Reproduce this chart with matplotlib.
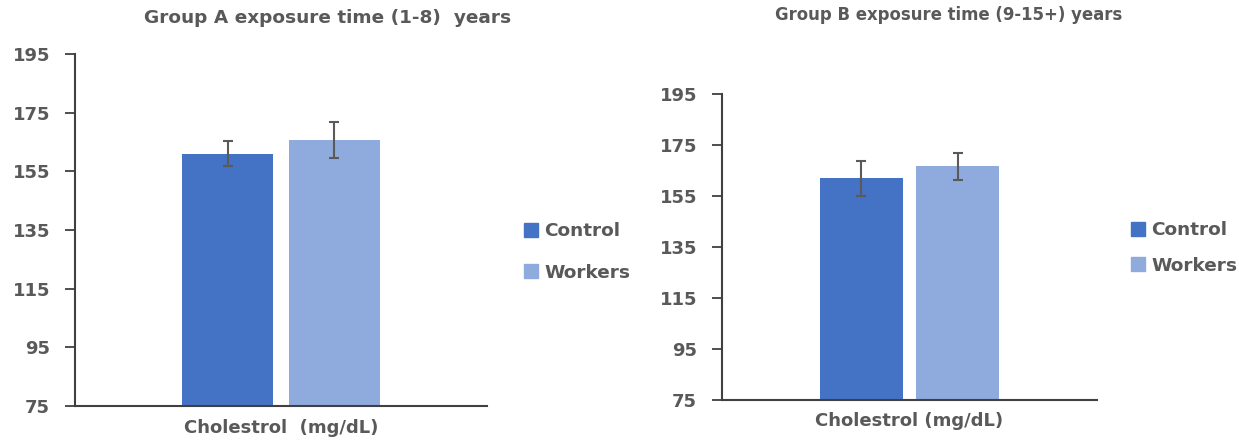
import matplotlib.pyplot as plt
from matplotlib.patches import Patch

# data
groups = ['Control', 'Workers']
colors = ['#4472C4', '#8FAADC']

titleA = 'Group A exposure time (1-8)  years'
meanA = [161.0, 165.7]
errA = [4.3, 6.2]
catA = 'Cholestrol  (mg/dL)'

titleB = 'Group B exposure time (9-15+) years'
meanB = [161.9, 166.6]
errB = [6.9, 5.3]
catB = 'Cholestrol (mg/dL)'

yticks = [75, 95, 115, 135, 155, 175, 195]

txt = '#595959'
plt.rcParams['font.family'] = ['DejaVu Sans']
plt.rcParams['font.weight'] = 'bold'

fig = plt.figure(figsize=(12.39, 4.43), dpi=100)

def panel(rect, title, means, errs, cat, tpos, tsize):
    ax = fig.add_axes(rect)
    offs = [-0.129, 0.129]
    for i in range(len(groups)):
        ax.bar(offs[i], means[i], width=0.221, color=colors[i], zorder=2)
        ax.errorbar(offs[i], means[i], yerr=errs[i], color='#5a5a5a',
                    capsize=3.6, elinewidth=1.5, capthick=1.5, zorder=3)
    ax.set_xlim(-0.5, 0.5)
    ax.set_ylim(75, 195)
    ax.set_yticks(yticks)
    ax.set_xticks([0])
    ax.set_xticklabels([cat])
    ax.tick_params(axis='x', length=0, pad=9, labelsize=13, labelcolor=txt)
    ax.tick_params(axis='y', length=7, width=1.3, color='#404040', pad=11,
                   labelsize=13, labelcolor=txt)
    for s in ['top', 'right']:
        ax.spines[s].set_visible(False)
    for s in ['left', 'bottom']:
        ax.spines[s].set_color('#404040')
        ax.spines[s].set_linewidth(1.5)
    fig.text(tpos[0], tpos[1], title, ha='center', va='center',
             fontsize=tsize, color=txt)
    return ax

panel([0.0605, 0.0835, 0.3325, 0.7946], titleA, meanA, errA, catA,
      (328 / 1239, 1 - 18 / 443), 13.3)
panel([0.5827, 0.0971, 0.3027, 0.6907], titleB, meanB, errB, catB,
      (949 / 1239, 1 - 15 / 443), 11.9)

handles = [Patch(color=c) for c in colors]
for x0, y0, sp in [(507 / 1239, 252 / 443, 1.25), (1114 / 1239, 248 / 443, 0.95)]:
    fig.legend(handles, groups, loc='center left', bbox_to_anchor=(x0, 1 - y0),
               frameon=False, fontsize=13.3, labelcolor=txt, handlelength=0.78,
               handleheight=0.78, handletextpad=0.33, labelspacing=sp)

fig.savefig('out.png', dpi=100)
